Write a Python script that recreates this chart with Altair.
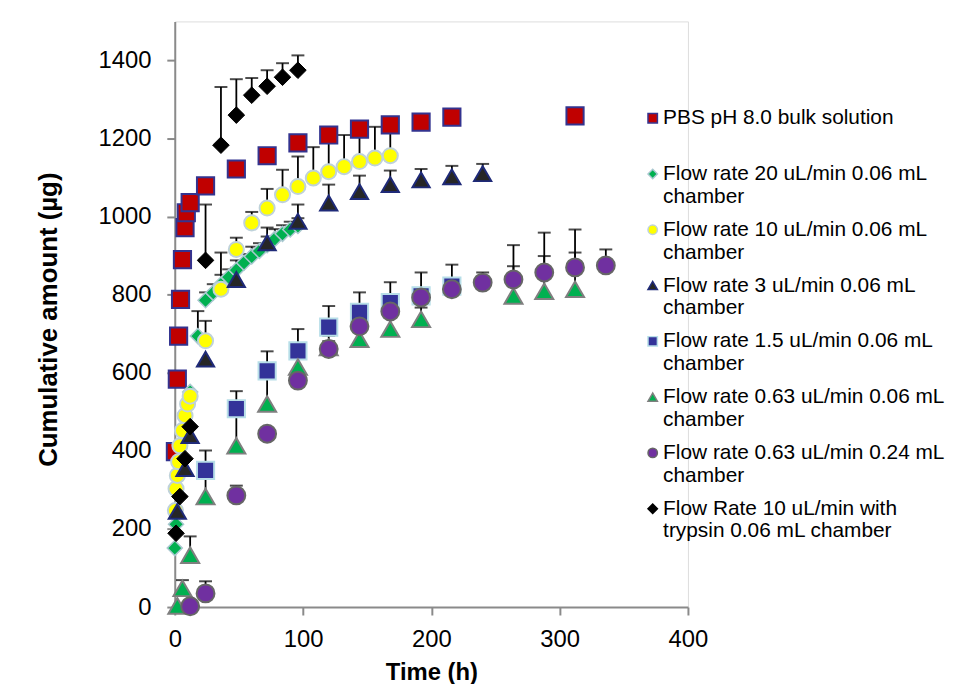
import altair as alt
import pandas as pd

SERIES = [
    "PBS pH 8.0 bulk solution|",
    "Flow rate 20 uL/min 0.06 mL|chamber",
    "Flow rate 10 uL/min 0.06 mL|chamber",
    "Flow rate 3 uL/min 0.06 mL|chamber",
    "Flow rate 1.5 uL/min 0.06 mL|chamber",
    "Flow rate 0.63 uL/min 0.06 mL|chamber",
    "Flow rate 0.63 uL/min 0.24 mL|chamber",
    "Flow Rate 10 uL/min with|trypsin 0.06 mL chamber",
]
FILLS = ["#C00000", "#00B050", "#FFFF00", "#262626", "#333399", "#00B050", "#7030A0", "#000000"]
STROKES = ["#33338F", "#A9C8D0", "#BFD2DA", "#1F2A78", "#B7DEE8", "#7F7F7F", "#666666", "#000000"]
SHAPES = ["square", "diamond", "circle", "triangle-up", "square", "triangle-up", "circle", "diamond"]
SIZES = [300, 230, 230, 300, 300, 330, 324, 280]
STROKE_W = [2, 1.5, 2, 2, 2, 2, 2, 1]

# PBS pH 8.0 bulk solution
pbs_t = [0.5, 2, 3, 4.5, 6, 8, 9, 12, 24, 48, 72, 96, 120, 144, 168, 192, 216, 312]
pbs_v = [398, 584, 694, 788, 890, 972, 1010, 1036, 1079, 1122, 1156, 1189, 1209, 1224, 1235, 1242, 1255, 1258]
pbs_e = [None] * 18

# Flow rate 20 uL/min 0.06 mL chamber
f20_t = [0, 1, 12, 18, 24, 30, 36, 42, 48, 54, 60, 66, 72, 78, 84, 90, 96]
f20_v = [151, 212, 551, 694, 786, 805, 826, 845, 863, 882, 898, 912, 927, 943, 956, 967, 976]
f20_e = [None, None, None, 64, 20, 22, 25, 20, 25, 22, 25, 20, 22, 25, 22, 20, 20]

# Flow rate 10 uL/min 0.06 mL chamber
f10_t = [0.5, 1, 2, 3, 4, 6, 8, 10, 12, 24, 36, 48, 60, 72, 84, 96, 108, 120, 132, 144, 156, 168]
f10_v = [247, 303, 337, 372, 413, 452, 490, 520, 540, 682, 814, 916, 984, 1022, 1056, 1077, 1099, 1115, 1128, 1141, 1150, 1156]
f10_e = [None] * 9 + [51, 94, 30, 28, 49, 64, 77, 79, 80, 81, 75, 80, 70]

# Flow rate 3 uL/min 0.06 mL chamber
f3_t = [2, 8, 12, 24, 48, 72, 96, 120, 144, 168, 192, 216, 240]
f3_v = [245, 355, 439, 635, 839, 933, 988, 1035, 1064, 1082, 1094, 1102, 1110]
f3_e = [None, None, None, None, 30, 39, 43, 47, 41, 36, 28, 28, 25]

# Flow rate 1.5 uL/min 0.06 mL chamber
f15_t = [24, 48, 72, 96, 120, 144, 168, 192, 216]
f15_v = [350, 508, 605, 656, 717, 755, 780, 797, 822]
f15_e = [51, 45, 50, 56, 54, 51, 52, 60, 55]

# Flow rate 0.63 uL/min 0.06 mL chamber
f063_t = [2, 6, 12, 24, 48, 72, 96, 120, 144, 168, 192, 264, 288, 312]
f063_v = [3, 48, 133, 283, 413, 520, 615, 665, 686, 712, 737, 797, 809, 814]
f063_e = [None, 21, 48, 65, 90, 85, 50, 30, 30, 30, 30, 76, 90, 94]

# Flow rate 0.63 uL/min 0.24 mL chamber
f024_t = [12, 24, 48, 72, 96, 120, 144, 168, 192, 216, 240, 264, 288, 312, 336]
f024_v = [2, 35, 286, 444, 580, 661, 719, 757, 793, 814, 831, 839, 857, 870, 875]
f024_e = [None, 31, 25, None, 20, 20, 20, 20, 20, 20, 26, 88, 102, 97, 41]

# Flow Rate 10 uL/min with trypsin 0.06 mL chamber
tryp_t = [1, 4, 8, 12, 24, 36, 48, 60, 72, 84, 96]
tryp_v = [189, 283, 380, 462, 888, 1183, 1260, 1311, 1334, 1357, 1375]
tryp_e = [None, None, None, None, 143, 149, 92, 44, 41, 36, 38]

TIMES = [pbs_t, f20_t, f10_t, f3_t, f15_t, f063_t, f024_t, tryp_t]
VALUES = [pbs_v, f20_v, f10_v, f3_v, f15_v, f063_v, f024_v, tryp_v]
ERRORS = [pbs_e, f20_e, f10_e, f3_e, f15_e, f063_e, f024_e, tryp_e]

X_TICKS = [0, 100, 200, 300, 400]
Y_TICKS = [0, 200, 400, 600, 800, 1000, 1200, 1400]

rows = []
for name, ts, vs, es in zip(SERIES, TIMES, VALUES, ERRORS):
    for t, v, e in zip(ts, vs, es):
        rows.append({"series": name, "t": t, "v": v, "hi": (v + e) if e else None})
df = pd.DataFrame(rows)
err = df.dropna(subset=["hi"])

FONT = "Liberation Sans"
AX = "#8A8A8A"

x_enc = alt.X(
    "t:Q",
    scale=alt.Scale(domain=[0, 400], nice=False),
    axis=alt.Axis(
        values=X_TICKS, format="d", title="Time (h)", grid=False, tickSize=8, domainColor=AX,
        tickColor=AX, domainWidth=2, tickWidth=2, labelFont=FONT, labelFontSize=24,
        labelColor="black", labelPadding=13, labelFlush=False, titleFont=FONT, titleFontSize=24,
        titleFontWeight="bold", titleColor="black", titleX=258.5, titleY=66,
        titleBaseline="middle", titleAlign="center",
    ),
)
y_enc = alt.Y(
    "v:Q",
    scale=alt.Scale(domain=[0, 1500], nice=False),
    axis=alt.Axis(
        values=Y_TICKS, format="d", title="Cumulative amount (µg)", grid=False, tickSize=8,
        domainColor=AX, tickColor=AX, domainWidth=2, tickWidth=2, labelFont=FONT,
        labelFontSize=24, labelColor="black", labelPadding=16, labelFlush=False, titleFont=FONT,
        titleFontSize=26, titleFontWeight="bold", titleColor="black", titleX=-127.5,
        titleY=300, titleBaseline="middle", titleAlign="center", titleAngle=270,
    ),
)

legend = alt.Legend(
    title=None, orient="none", legendX=471, legendY=87, padding=0,
    labelExpr="split(datum.label, '|')",
    labelFont=FONT, labelFontSize=21, labelColor="black", labelLimit=500, labelOffset=0,
    symbolSize=90, symbolStrokeWidth=1.5, symbolOffset=0, rowPadding=11.2,
)
fill_scale = alt.Scale(domain=SERIES, range=FILLS)
stroke_scale = alt.Scale(domain=SERIES, range=STROKES)
shape_scale = alt.Scale(domain=SERIES, range=SHAPES)

bars = alt.Chart(err).mark_rule(color="black", strokeWidth=1.8).encode(x=x_enc, y=y_enc, y2="hi:Q")
caps = alt.Chart(err).mark_tick(color="black", orient="horizontal", size=13, thickness=2).encode(
    x=x_enc, y=alt.Y("hi:Q")
)

point_layers = []
for i, name in enumerate(SERIES):
    sub = df[df["series"] == name]
    point_layers.append(
        alt.Chart(sub)
        .mark_point(filled=True, size=SIZES[i], strokeWidth=STROKE_W[i], opacity=1, fillOpacity=1, strokeOpacity=1)
        .encode(
            x=x_enc,
            y=y_enc,
            fill=alt.Fill("series:N", scale=fill_scale, legend=legend),
            stroke=alt.Stroke("series:N", scale=stroke_scale, legend=legend),
            shape=alt.Shape("series:N", scale=shape_scale, legend=legend),
        )
    )

chart = (
    alt.layer(bars, caps, *point_layers)
    .properties(
        width=517,
        height=590,
        padding={"left": 168, "top": 11, "right": 262, "bottom": 75},
        autosize=alt.AutoSizeParams(type="none"),
    )
    .configure_view(stroke=None)
    .configure(background="white")
)

chart.save("out.html", embed_options={"renderer": "svg", "actions": False})
